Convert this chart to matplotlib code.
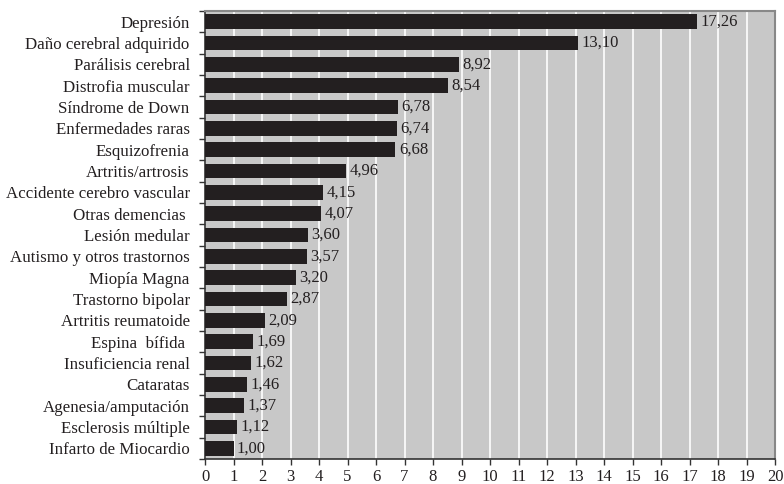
import matplotlib
matplotlib.use("Agg")
import matplotlib.pyplot as plt
import numpy as np

categories = ["Depresión", "Daño cerebral adquirido", "Parálisis cerebral",
              "Distrofia muscular", "Síndrome de Down", "Enfermedades raras",
              "Esquizofrenia", "Artritis/artrosis", "Accidente cerebro vascular",
              "Otras demencias ", "Lesión medular", "Autismo y otros trastornos",
              "Miopía Magna", "Trastorno bipolar", "Artritis reumatoide",
              "Espina  bífida ", "Insuficiencia renal", "Cataratas",
              "Agenesia/amputación", "Esclerosis múltiple", "Infarto de Miocardio"]
values = [17.26, 13.10, 8.92, 8.54, 6.78, 6.74, 6.68, 4.96, 4.15, 4.07, 3.60,
          3.57, 3.20, 2.87, 2.09, 1.69, 1.62, 1.46, 1.37, 1.12, 1.00]

plt.rcParams['font.family'] = ['Liberation Serif', 'DejaVu Serif']

fig = plt.figure(figsize=(7.84, 4.84), dpi=100)
ax = fig.add_axes([205 / 784, 1 - 459 / 484, 570 / 784, 448 / 484])
ax.set_facecolor("#c8c8c8")

y = np.arange(len(categories))
ax.barh(y, values, height=0.68, color="#231f20", zorder=3)
for yi, v in zip(y, values):
    ax.text(v + 0.12, yi, f"{v:.2f}".replace(".", ","), va="center", ha="left",
            fontsize=12, color="#231f20", zorder=4)

ax.set_xlim(0, 20)
ax.set_ylim(len(categories) - 0.5, -0.5)
ax.set_xticks(np.arange(0, 21, 1))
ax.xaxis.grid(True, color="white", linewidth=1.2, zorder=1)
ax.set_axisbelow(True)

ax.set_yticks(y)
ax.set_yticklabels(categories, fontsize=12.2, color="#231f20")
ax.set_yticks(np.arange(-0.5, len(categories), 1), minor=True)
ax.tick_params(axis="y", which="major", length=0, pad=11)
ax.tick_params(axis="y", which="minor", length=4, width=1, color="#333333")
ax.tick_params(axis="x", length=4, width=1, color="#333333", labelsize=12,
               labelcolor="#231f20", pad=3)

for s in ["left", "bottom"]:
    ax.spines[s].set_color("#333333")
    ax.spines[s].set_linewidth(1.2)
for s in ["top", "right"]:
    ax.spines[s].set_color("#888888")
    ax.spines[s].set_linewidth(1.5)

fig.savefig("out.png", dpi=100)
